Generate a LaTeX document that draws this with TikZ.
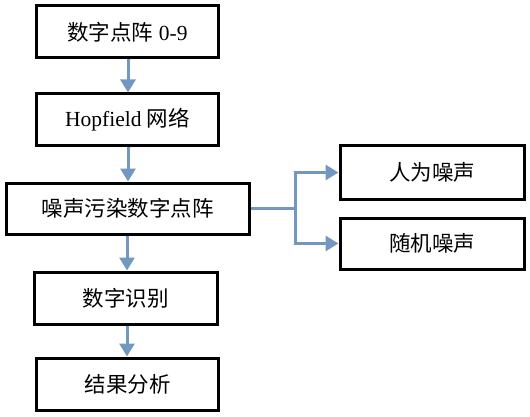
\documentclass[tikz,border=0pt]{standalone}
\usepackage{fontspec}
\setmainfont{Liberation Serif}
\newfontfamily\cjk{Noto Sans CJK SC}
\usetikzlibrary{arrows.meta}
\definecolor{arr}{RGB}{114,152,194}
\tikzset{
  boxnode/.style={draw=black, line width=3pt, minimum width=#1, inner sep=0pt, font=\fontsize{21.5}{25}\selectfont},
  boxnode/.default=180pt,
  flow/.style={draw=arr, line width=3pt, -{Triangle[width=15pt,length=13pt]}}
}
\begin{document}
\begin{tikzpicture}[x=1pt,y=-1pt]
\useasboundingbox (0,0) rectangle (530,417);
\node[boxnode, minimum width=181.5pt, minimum height=52pt] (a) at (127.5,32) {{\cjk 数字点阵} 0-9};
\node[boxnode, minimum width=181.5pt, minimum height=52pt] (b) at (127.5,120) {Hopfield {\cjk 网络}};
\node[boxnode, minimum width=243pt, minimum height=51pt] (c) at (127.5,208.5) {\cjk 噪声污染数字点阵};
\node[boxnode, minimum width=183pt, minimum height=52pt] (d) at (125.5,298) {\cjk 数字识别};
\node[boxnode, minimum width=181.5pt, minimum height=52pt] (e) at (127.5,384) {\cjk 结果分析};
\node[boxnode, minimum width=184pt, minimum height=53pt] (f) at (432,172.5) {\cjk 人为噪声};
\node[boxnode, minimum width=184pt, minimum height=51pt] (g) at (432,243.5) {\cjk 随机噪声};
\coordinate (j) at (295,208.5);
\draw[flow] (a.south -| 128,0) -- (b.north -| 128,0);
\draw[flow] (b.south -| 128,0) -- (c.north -| 128,0);
\draw[flow] (c.south -| 127,0) -- (d.north -| 127,0);
\draw[flow] (d.south -| 127,0) -- (e.north -| 127,0);
\draw[draw=arr, line width=3pt] (c.east) -- (j);
\draw[flow] (j) |- (f.west);
\draw[flow] (j) |- (g.west);
\end{tikzpicture}
\end{document}
